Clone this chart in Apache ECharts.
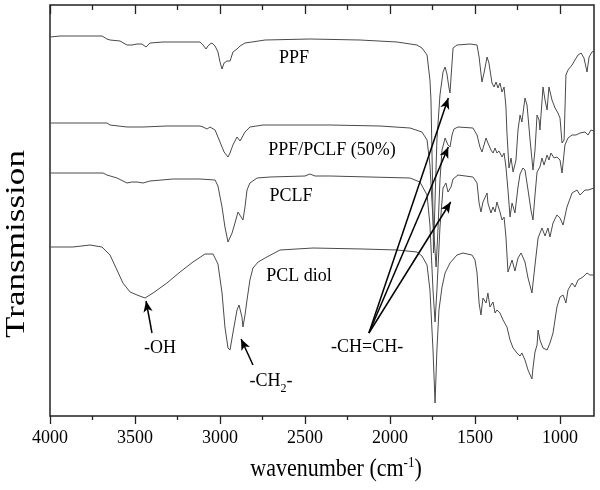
<!DOCTYPE html>
<html><head><meta charset="utf-8">
<script src="https://cdn.jsdelivr.net/npm/echarts@6/dist/echarts.min.js"></script>
<style>html,body{margin:0;padding:0;background:#fff}#c{width:600px;height:490px}</style>
</head><body><div id="c"></div>
<script>
// Wavenumber (cm-1) vs transmission (arbitrary units)
const ppf = [[4000,379],[3941,380],[3694,380],[3665,377],[3647,376],[3588,375],[3547,371],[3518,371],[3488,372],[3459,372],[3435,369],[3412,373],[3335,374],[3235,374],[3118,374],[3100,371],[3082,367],[3071,370],[3059,372],[3047,373],[3029,370],[3012,364],[3000,354],[2988,347],[2976,353],[2959,355],[2941,355],[2935,358],[2924,364],[2900,367],[2882,370],[2853,373],[2812,374],[2735,376],[2471,377],[2176,376],[1959,374],[1841,371],[1812,368],[1782,361],[1765,336],[1759,316],[1750,236],[1744,163],[1735,216],[1724,276],[1706,321],[1688,344],[1676,349],[1665,342],[1653,328],[1647,323],[1638,346],[1629,368],[1606,371],[1529,372],[1488,371],[1476,359],[1459,334],[1447,343],[1429,359],[1418,353],[1400,333],[1388,329],[1376,334],[1365,328],[1353,333],[1341,324],[1329,329],[1318,309],[1312,283],[1300,248],[1288,258],[1276,244],[1259,256],[1247,286],[1235,301],[1224,294],[1206,318],[1194,311],[1176,276],[1159,246],[1147,266],[1135,301],[1123,296],[1118,286],[1100,329],[1088,316],[1076,306],[1065,329],[1047,316],[1029,308],[1012,303],[1000,298],[988,273],[976,276],[965,341],[953,346],[929,351],[912,356],[894,361],[876,363],[859,358],[841,344],[829,359],[812,364],[800,365]];
const ppfPclf = [[4000,293],[3665,293],[3647,291],[3547,289],[3453,289],[3312,290],[3118,290],[3100,289],[3076,287],[3059,289],[3029,286],[3000,274],[2976,264],[2953,259],[2941,263],[2924,271],[2900,279],[2882,275],[2871,277],[2853,284],[2824,289],[2747,291],[2353,291],[2059,290],[1882,288],[1812,284],[1782,276],[1765,251],[1747,196],[1729,149],[1718,186],[1706,236],[1694,266],[1676,278],[1659,271],[1647,269],[1635,281],[1624,287],[1600,289],[1512,288],[1488,281],[1471,269],[1459,264],[1447,271],[1435,278],[1424,273],[1406,266],[1394,263],[1382,268],[1371,263],[1359,265],[1341,259],[1329,263],[1318,249],[1306,226],[1294,199],[1282,213],[1265,203],[1247,229],[1235,242],[1218,248],[1206,246],[1188,226],[1171,206],[1159,196],[1147,221],[1135,244],[1118,249],[1106,258],[1094,251],[1076,261],[1065,256],[1053,263],[1035,258],[1018,259],[1000,256],[988,243],[982,241],[971,271],[953,278],[929,281],[906,281],[882,283],[853,284],[835,281],[818,286],[800,285]];
const pclf = [[4000,243],[3688,243],[3665,241],[3606,238],[3547,233],[3518,234],[3488,234],[3453,233],[3412,235],[3276,237],[3118,237],[3029,236],[3012,230],[2988,209],[2971,189],[2953,174],[2929,183],[2912,193],[2894,204],[2876,199],[2865,196],[2853,209],[2841,226],[2824,233],[2782,238],[2706,239],[2500,240],[2471,242],[2441,240],[2353,240],[1882,238],[1824,234],[1782,221],[1765,191],[1747,126],[1735,94],[1724,126],[1706,189],[1688,228],[1671,233],[1659,224],[1641,229],[1629,237],[1600,241],[1512,239],[1488,233],[1476,213],[1465,204],[1453,214],[1429,223],[1424,213],[1406,203],[1394,209],[1382,204],[1371,214],[1353,204],[1341,196],[1329,199],[1318,179],[1306,144],[1282,156],[1265,145],[1247,158],[1229,163],[1206,154],[1188,138],[1165,123],[1147,151],[1129,178],[1106,188],[1088,180],[1071,188],[1059,179],[1041,193],[1018,201],[1000,198],[982,191],[959,209],[929,223],[900,226],[882,221],[853,226],[835,226],[800,228]];
const pclDiol = [[4000,169],[3865,169],[3765,171],[3694,169],[3647,161],[3606,146],[3571,133],[3529,124],[3488,121],[3441,118],[3394,123],[3312,133],[3235,144],[3159,154],[3088,162],[3041,162],[3012,152],[2988,123],[2971,89],[2953,68],[2941,66],[2924,83],[2900,106],[2888,111],[2871,99],[2865,89],[2853,101],[2841,116],[2824,136],[2806,148],[2776,154],[2735,158],[2647,166],[2453,168],[2159,167],[1959,166],[1841,164],[1812,160],[1782,151],[1765,126],[1747,66],[1735,13],[1724,66],[1712,106],[1694,129],[1676,143],[1647,153],[1606,161],[1571,163],[1518,161],[1500,156],[1488,143],[1476,113],[1465,101],[1453,118],[1435,113],[1424,123],[1412,109],[1394,114],[1382,103],[1371,106],[1353,103],[1335,96],[1312,89],[1294,76],[1276,68],[1253,63],[1235,60],[1224,63],[1206,56],[1188,46],[1165,37],[1159,48],[1147,64],[1135,71],[1129,86],[1118,76],[1100,68],[1076,66],[1059,73],[1041,83],[1018,109],[1000,119],[982,121],[965,113],[953,126],[929,133],[912,129],[894,136],[865,139],[841,143],[824,141],[800,141]];

const seriesNames = ['PPF','PPF/PCLF (50%)','PCLF','PCL diol'];
const seriesData = [ppf, ppfPclf, pclf, pclDiol];
const majorTicks = [1000,1500,2000,2500,3000,3500,4000];
const minorTicks = [1250,1750,2250,2750,3250,3750];

// Annotation texts anchored in data coordinates
const labelTexts = ['PPF','PPF/PCLF (50%)','PCLF','PCL diol','-OH','-CH{sub|2}-','-CH=CH-'];
const labelAnchors = [[2565,358],[2341,266],[2582,220],[2535,140],[3353,68],[2700,35],[2135,69]];
// Arrows [from, to] in data coordinates
const arrowList = [
  [[3400,83],[3435,115]],
  [[2806,51],[2876,77]],
  [[2124,83],[1657,318]],
  [[2124,83],[1657,269]],
  [[2124,83],[1643,214]]
];

const FONT = 'Liberation Serif, Times New Roman, serif';
const chart = echarts.init(document.getElementById('c'), null, {renderer:'canvas'});

function xAx(pos, ticks, len, inside, labels){
  return {
    type:'value', min:800, max:4000, inverse:true, position:pos,
    axisLine:{show:false}, splitLine:{show:false}, minorTick:{show:false},
    axisTick:{show:true, inside:inside, length:len, customValues:ticks, lineStyle:{color:'#222', width:1.3}},
    axisLabel:labels ? {show:true, customValues:ticks, margin:13, fontSize:18, color:'#000', fontFamily:FONT,
      formatter:(v)=>String(v)} : {show:false}
  };
}

const lineSeries = seriesData.map((d,i)=>({
  name: seriesNames[i], type:'line', data:d, xAxisIndex:0, yAxisIndex:0,
  showSymbol:false, symbol:'none', smooth:false,
  lineStyle:{color:'#4a4a4a', width:1}, animation:false, silent:true
}));

const option = {
  animation:false,
  grid:{left:50, right:6, top:5, bottom:74, show:true, borderColor:'#222', borderWidth:1.5, backgroundColor:'transparent'},
  xAxis:[
    xAx('bottom', majorTicks, 8, false, true),
    xAx('bottom', minorTicks, 4, false, false),
    xAx('top', majorTicks, 9, true, false),
    xAx('top', minorTicks, 5, true, false)
  ],
  yAxis:{type:'value', min:0, max:411, axisLine:{show:false}, axisTick:{show:false}, axisLabel:{show:false}, splitLine:{show:false}},
  series: lineSeries.concat([{
    type:'scatter', xAxisIndex:0, yAxisIndex:0, silent:true, animation:false,
    symbolSize:1, itemStyle:{color:'transparent', opacity:1},
    data: labelAnchors.map((a,i)=>({value:a, label:{formatter:labelTexts[i]}})),
    label:{show:true, position:'inside', fontSize:18, color:'#000', opacity:1, textBorderWidth:0, fontFamily:FONT,
      rich:{sub:{fontSize:12, fontFamily:FONT, color:'#000', textBorderWidth:0, verticalAlign:'bottom', lineHeight:28}}},
    markLine:{
      silent:true, animation:false, symbol:['none','arrow'], symbolSize:[7,11],
      lineStyle:{color:'#000', width:1.5, type:'solid', opacity:1}, label:{show:false},
      data: arrowList.map(a=>[{coord:a[0]},{coord:a[1]}])
    }
  }]),
  graphic:[
    {type:'text', x:336, y:470, scaleY:1.12, style:{
      text:'{a|wavenumber (cm}{s|-1}{a|)}', align:'center', verticalAlign:'middle',
      rich:{a:{fontSize:22, fontFamily:FONT, fill:'#000', color:'#000', lineHeight:26},
            s:{fontSize:13, fontFamily:FONT, fill:'#000', color:'#000', verticalAlign:'top', lineHeight:26}}
    }},
    {type:'text', x:17, y:244, rotation:Math.PI/2, scaleX:1.3, style:{
      text:'Transmission', fontSize:27, fontFamily:FONT, fill:'#000', align:'center', verticalAlign:'middle'
    }}
  ]
};
chart.setOption(option);
</script></body></html>
